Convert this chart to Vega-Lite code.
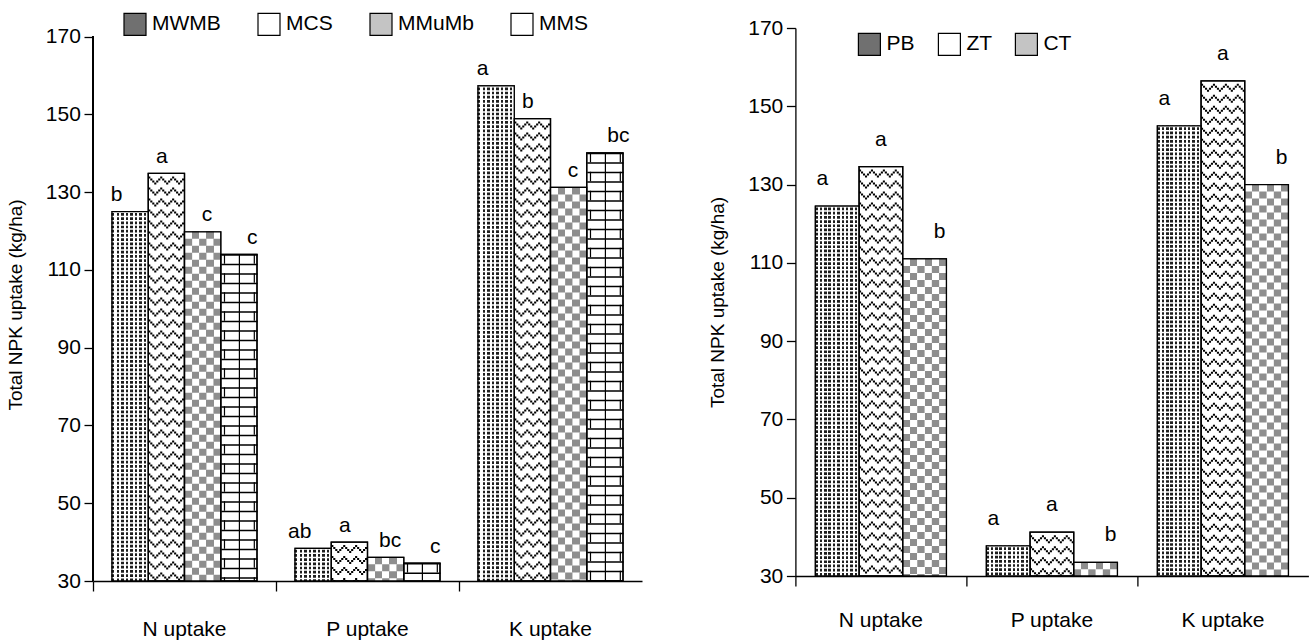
{
"$schema":"https://vega.github.io/schema/vega-lite/v6.json",
"padding":{"left":6,"top":12,"right":1,"bottom":0},
"bounds":"flush",
"spacing":153.4,
"resolve":{"scale":{"fill":"independent"},"legend":{"fill":"independent"}},
"config":{"font":"Liberation Sans","view":{"stroke":null},
 "axis":{"labelFont":"Liberation Sans","titleFont":"Liberation Sans","labelColor":"black","titleColor":"black","domainColor":"black","tickColor":"black","domainWidth":1.3,"tickWidth":1.3,"grid":false},
 "legend":{"labelFont":"Liberation Sans","labelColor":"black"},
 "text":{"font":"Liberation Sans"}},
"datasets":{
 "left":[
 {"nutrient":"N uptake","treatment":"MWMB","value":125,"sig":"b"},
 {"nutrient":"N uptake","treatment":"MCS","value":134.8,"sig":"a"},
 {"nutrient":"N uptake","treatment":"MMuMb","value":119.8,"sig":"c"},
 {"nutrient":"N uptake","treatment":"MMS","value":114,"sig":"c"},
 {"nutrient":"P uptake","treatment":"MWMB","value":38.4,"sig":"ab"},
 {"nutrient":"P uptake","treatment":"MCS","value":40,"sig":"a"},
 {"nutrient":"P uptake","treatment":"MMuMb","value":36.1,"sig":"bc"},
 {"nutrient":"P uptake","treatment":"MMS","value":34.6,"sig":"c"},
 {"nutrient":"K uptake","treatment":"MWMB","value":157.3,"sig":"a"},
 {"nutrient":"K uptake","treatment":"MCS","value":148.9,"sig":"b"},
 {"nutrient":"K uptake","treatment":"MMuMb","value":131.2,"sig":"c"},
 {"nutrient":"K uptake","treatment":"MMS","value":140.1,"sig":"bc"}],
 "right":[
 {"nutrient":"N uptake","treatment":"PB","value":124.5,"sig":"a"},
 {"nutrient":"N uptake","treatment":"ZT","value":134.6,"sig":"a"},
 {"nutrient":"N uptake","treatment":"CT","value":111,"sig":"b"},
 {"nutrient":"P uptake","treatment":"PB","value":37.7,"sig":"a"},
 {"nutrient":"P uptake","treatment":"ZT","value":41.2,"sig":"a"},
 {"nutrient":"P uptake","treatment":"CT","value":33.5,"sig":"b"},
 {"nutrient":"K uptake","treatment":"PB","value":145,"sig":"a"},
 {"nutrient":"K uptake","treatment":"ZT","value":156.5,"sig":"a"},
 {"nutrient":"K uptake","treatment":"CT","value":130,"sig":"b"}]
},
"hconcat":[
{
 "width":549,"height":553,
 "data":{"name":"left"},
 "encoding":{
  "x":{"field":"nutrient","type":"nominal","sort":["N uptake","P uptake","K uptake"],"scale":{"paddingInner":0,"paddingOuter":0},
   "axis":{"title":null,"labelAngle":0,"labelFontSize":21,"labelPadding":27.5,"bandPosition":0,"tickSize":10}},
  "y":{"field":"value","type":"quantitative","scale":{"domain":[30,172.2],"nice":false,"zero":false},
   "axis":{"values":[30,50,70,90,110,130,150,170],"domain":false,"title":"Total NPK uptake (kg/ha)","titleFontSize":19,"titleFontWeight":"normal","titlePadding":20,"labelFontSize":21,"labelPadding":3.6,"tickSize":9}}
 },
 "resolve":{"scale":{"xOffset":"independent"}},
 "layer":[
  {"mark":{"type":"rule","color":"black","strokeWidth":1.3},
   "encoding":{"x":{"datum":"N uptake","bandPosition":0},"y":{"datum":30},"y2":{"datum":170}}},
  {"mark":{"type":"bar","stroke":"black","strokeWidth":1.3},
   "encoding":{"xOffset":{"field":"treatment","type":"nominal","scale":{"domain":["MWMB","MCS","MMuMb","MMS"],"paddingInner":0,"paddingOuter":0.524}},
    "y2":{"datum":30},
    "fill":{"field":"treatment","type":"nominal","scale":{"domain":["MWMB","MCS","MMuMb","MMS"],"range":["#707070","#ffffff","#c4c4c4","#ffffff"]},
     "legend":{"title":null,"orient":"none","legendX":30,"legendY":-16,"direction":"horizontal","symbolType":"square","symbolSize":484,"symbolStrokeColor":"black","symbolStrokeWidth":1.2,"symbolOpacity":1,"labelFontSize":21,"labelOffset":5,"columnPadding":34}}}},
  {"transform":[{"filter":"datum.treatment==='MWMB'"}],
   "mark":{"type":"bar","fill":{"gradient":"linear","x1":0,"y1":0,"x2":1,"y2":0,"stops":[
      {"offset":0,"color":"#1e1e1e"},{"offset":0.06875,"color":"#1e1e1e"},{"offset":0.06875,"color":"#ffffff"},{"offset":0.125,"color":"#ffffff"},
      {"offset":0.125,"color":"#1e1e1e"},{"offset":0.19375,"color":"#1e1e1e"},{"offset":0.19375,"color":"#ffffff"},{"offset":0.25,"color":"#ffffff"},
      {"offset":0.25,"color":"#1e1e1e"},{"offset":0.31875,"color":"#1e1e1e"},{"offset":0.31875,"color":"#ffffff"},{"offset":0.375,"color":"#ffffff"},
      {"offset":0.375,"color":"#1e1e1e"},{"offset":0.44375,"color":"#1e1e1e"},{"offset":0.44375,"color":"#ffffff"},{"offset":0.5,"color":"#ffffff"},
      {"offset":0.5,"color":"#1e1e1e"},{"offset":0.56875,"color":"#1e1e1e"},{"offset":0.56875,"color":"#ffffff"},{"offset":0.625,"color":"#ffffff"},
      {"offset":0.625,"color":"#1e1e1e"},{"offset":0.69375,"color":"#1e1e1e"},{"offset":0.69375,"color":"#ffffff"},{"offset":0.75,"color":"#ffffff"},
      {"offset":0.75,"color":"#1e1e1e"},{"offset":0.81875,"color":"#1e1e1e"},{"offset":0.81875,"color":"#ffffff"},{"offset":0.875,"color":"#ffffff"},
      {"offset":0.875,"color":"#1e1e1e"},{"offset":0.94375,"color":"#1e1e1e"},{"offset":0.94375,"color":"#ffffff"},{"offset":1,"color":"#ffffff"}]}},
   "encoding":{"xOffset":{"field":"treatment","type":"nominal","scale":{"domain":["MWMB","MCS","MMuMb","MMS"],"paddingInner":0,"paddingOuter":0.524}},"y2":{"datum":30}}},
  {"transform":[{"filter":"datum.treatment==='MMuMb'"}],
   "mark":{"type":"bar","fill":{"gradient":"linear","x1":0,"y1":0,"x2":1,"y2":0,"stops":[
      {"offset":0,"color":"#ffffff"},{"offset":0.2,"color":"#ffffff"},{"offset":0.2,"color":"#8e8e8e"},{"offset":0.4,"color":"#8e8e8e"},
      {"offset":0.4,"color":"#ffffff"},{"offset":0.6,"color":"#ffffff"},{"offset":0.6,"color":"#8e8e8e"},{"offset":0.8,"color":"#8e8e8e"},
      {"offset":0.8,"color":"#ffffff"},{"offset":1,"color":"#ffffff"}]}},
   "encoding":{"xOffset":{"field":"treatment","type":"nominal","scale":{"domain":["MWMB","MCS","MMuMb","MMS"],"paddingInner":0,"paddingOuter":0.524}},"y2":{"datum":30}}},
  {"transform":[{"filter":"datum.treatment==='MWMB'"}],"mark":{"type":"rule","color":"#ffffff","strokeWidth":36.25,"strokeDash":[1.5,2.7]},"encoding":{"xOffset":{"field":"treatment","type":"nominal","scale":{"domain":["MWMB","MCS","MMuMb","MMS"],"paddingInner":1,"paddingOuter":1.024,"align":0.5}},"y2":{"datum":30}}},
  {"transform":[{"filter":"datum.treatment==='MCS'"}],"mark":{"type":"rule","color":"black","strokeWidth":2.1,"strokeDash":[2,9],"strokeDashOffset":8},"encoding":{"xOffset":{"field":"treatment","type":"nominal","scale":{"domain":["MWMB","MCS","MMuMb","MMS"],"paddingInner":1,"paddingOuter":1.024,"align":0.2694}},"y2":{"datum":30}}},
  {"transform":[{"filter":"datum.treatment==='MCS'"}],"mark":{"type":"rule","color":"black","strokeWidth":2.1,"strokeDash":[2,9],"strokeDashOffset":6},"encoding":{"xOffset":{"field":"treatment","type":"nominal","scale":{"domain":["MWMB","MCS","MMuMb","MMS"],"paddingInner":1,"paddingOuter":1.024,"align":0.2966}},"y2":{"datum":30}}},
  {"transform":[{"filter":"datum.treatment==='MCS'"}],"mark":{"type":"rule","color":"black","strokeWidth":2.1,"strokeDash":[2,9],"strokeDashOffset":4},"encoding":{"xOffset":{"field":"treatment","type":"nominal","scale":{"domain":["MWMB","MCS","MMuMb","MMS"],"paddingInner":1,"paddingOuter":1.024,"align":0.3237}},"y2":{"datum":30}}},
  {"transform":[{"filter":"datum.treatment==='MCS'"}],"mark":{"type":"rule","color":"black","strokeWidth":2.1,"strokeDash":[2,9],"strokeDashOffset":2},"encoding":{"xOffset":{"field":"treatment","type":"nominal","scale":{"domain":["MWMB","MCS","MMuMb","MMS"],"paddingInner":1,"paddingOuter":1.024,"align":0.3508}},"y2":{"datum":30}}},
  {"transform":[{"filter":"datum.treatment==='MCS'"}],"mark":{"type":"rule","color":"black","strokeWidth":2.1,"strokeDash":[2,9],"strokeDashOffset":4},"encoding":{"xOffset":{"field":"treatment","type":"nominal","scale":{"domain":["MWMB","MCS","MMuMb","MMS"],"paddingInner":1,"paddingOuter":1.024,"align":0.3779}},"y2":{"datum":30}}},
  {"transform":[{"filter":"datum.treatment==='MCS'"}],"mark":{"type":"rule","color":"black","strokeWidth":2.1,"strokeDash":[2,9],"strokeDashOffset":6},"encoding":{"xOffset":{"field":"treatment","type":"nominal","scale":{"domain":["MWMB","MCS","MMuMb","MMS"],"paddingInner":1,"paddingOuter":1.024,"align":0.4051}},"y2":{"datum":30}}},
  {"transform":[{"filter":"datum.treatment==='MCS'"}],"mark":{"type":"rule","color":"black","strokeWidth":2.1,"strokeDash":[2,9],"strokeDashOffset":8},"encoding":{"xOffset":{"field":"treatment","type":"nominal","scale":{"domain":["MWMB","MCS","MMuMb","MMS"],"paddingInner":1,"paddingOuter":1.024,"align":0.4322}},"y2":{"datum":30}}},
  {"transform":[{"filter":"datum.treatment==='MCS'"}],"mark":{"type":"rule","color":"black","strokeWidth":2.1,"strokeDash":[2,9],"strokeDashOffset":6},"encoding":{"xOffset":{"field":"treatment","type":"nominal","scale":{"domain":["MWMB","MCS","MMuMb","MMS"],"paddingInner":1,"paddingOuter":1.024,"align":0.4593}},"y2":{"datum":30}}},
  {"transform":[{"filter":"datum.treatment==='MCS'"}],"mark":{"type":"rule","color":"black","strokeWidth":2.1,"strokeDash":[2,9],"strokeDashOffset":4},"encoding":{"xOffset":{"field":"treatment","type":"nominal","scale":{"domain":["MWMB","MCS","MMuMb","MMS"],"paddingInner":1,"paddingOuter":1.024,"align":0.4864}},"y2":{"datum":30}}},
  {"transform":[{"filter":"datum.treatment==='MCS'"}],"mark":{"type":"rule","color":"black","strokeWidth":2.1,"strokeDash":[2,9],"strokeDashOffset":2},"encoding":{"xOffset":{"field":"treatment","type":"nominal","scale":{"domain":["MWMB","MCS","MMuMb","MMS"],"paddingInner":1,"paddingOuter":1.024,"align":0.5136}},"y2":{"datum":30}}},
  {"transform":[{"filter":"datum.treatment==='MCS'"}],"mark":{"type":"rule","color":"black","strokeWidth":2.1,"strokeDash":[2,9],"strokeDashOffset":4},"encoding":{"xOffset":{"field":"treatment","type":"nominal","scale":{"domain":["MWMB","MCS","MMuMb","MMS"],"paddingInner":1,"paddingOuter":1.024,"align":0.5407}},"y2":{"datum":30}}},
  {"transform":[{"filter":"datum.treatment==='MCS'"}],"mark":{"type":"rule","color":"black","strokeWidth":2.1,"strokeDash":[2,9],"strokeDashOffset":6},"encoding":{"xOffset":{"field":"treatment","type":"nominal","scale":{"domain":["MWMB","MCS","MMuMb","MMS"],"paddingInner":1,"paddingOuter":1.024,"align":0.5678}},"y2":{"datum":30}}},
  {"transform":[{"filter":"datum.treatment==='MCS'"}],"mark":{"type":"rule","color":"black","strokeWidth":2.1,"strokeDash":[2,9],"strokeDashOffset":8},"encoding":{"xOffset":{"field":"treatment","type":"nominal","scale":{"domain":["MWMB","MCS","MMuMb","MMS"],"paddingInner":1,"paddingOuter":1.024,"align":0.5949}},"y2":{"datum":30}}},
  {"transform":[{"filter":"datum.treatment==='MCS'"}],"mark":{"type":"rule","color":"black","strokeWidth":2.1,"strokeDash":[2,9],"strokeDashOffset":6},"encoding":{"xOffset":{"field":"treatment","type":"nominal","scale":{"domain":["MWMB","MCS","MMuMb","MMS"],"paddingInner":1,"paddingOuter":1.024,"align":0.6221}},"y2":{"datum":30}}},
  {"transform":[{"filter":"datum.treatment==='MCS'"}],"mark":{"type":"rule","color":"black","strokeWidth":2.1,"strokeDash":[2,9],"strokeDashOffset":4},"encoding":{"xOffset":{"field":"treatment","type":"nominal","scale":{"domain":["MWMB","MCS","MMuMb","MMS"],"paddingInner":1,"paddingOuter":1.024,"align":0.6492}},"y2":{"datum":30}}},
  {"transform":[{"filter":"datum.treatment==='MCS'"}],"mark":{"type":"rule","color":"black","strokeWidth":2.1,"strokeDash":[2,9],"strokeDashOffset":2},"encoding":{"xOffset":{"field":"treatment","type":"nominal","scale":{"domain":["MWMB","MCS","MMuMb","MMS"],"paddingInner":1,"paddingOuter":1.024,"align":0.6763}},"y2":{"datum":30}}},
  {"transform":[{"filter":"datum.treatment==='MCS'"}],"mark":{"type":"rule","color":"black","strokeWidth":2.1,"strokeDash":[2,9],"strokeDashOffset":4},"encoding":{"xOffset":{"field":"treatment","type":"nominal","scale":{"domain":["MWMB","MCS","MMuMb","MMS"],"paddingInner":1,"paddingOuter":1.024,"align":0.7034}},"y2":{"datum":30}}},
  {"transform":[{"filter":"datum.treatment==='MCS'"}],"mark":{"type":"rule","color":"black","strokeWidth":2.1,"strokeDash":[2,9],"strokeDashOffset":6},"encoding":{"xOffset":{"field":"treatment","type":"nominal","scale":{"domain":["MWMB","MCS","MMuMb","MMS"],"paddingInner":1,"paddingOuter":1.024,"align":0.7306}},"y2":{"datum":30}}},
  {"transform":[{"filter":"datum.treatment==='MMuMb'"}],"mark":{"type":"rule","color":"#ffffff","strokeWidth":36.25,"strokeDash":[7,7],"strokeDashOffset":7},"encoding":{"xOffset":{"field":"treatment","type":"nominal","scale":{"domain":["MWMB","MCS","MMuMb","MMS"],"paddingInner":1,"paddingOuter":1.024,"align":0.5}},"y2":{"datum":30}}},
  {"transform":[{"filter":"datum.treatment==='MMuMb'"}],"mark":{"type":"rule","color":"#8e8e8e","strokeWidth":7.3,"strokeDash":[7,7],"strokeDashOffset":7},"encoding":{"xOffset":{"field":"treatment","type":"nominal","scale":{"domain":["MWMB","MCS","MMuMb","MMS"],"paddingInner":1,"paddingOuter":1.024,"align":0.3047}},"y2":{"datum":30}}},
  {"transform":[{"filter":"datum.treatment==='MMuMb'"}],"mark":{"type":"rule","color":"#8e8e8e","strokeWidth":7.3,"strokeDash":[7,7],"strokeDashOffset":7},"encoding":{"xOffset":{"field":"treatment","type":"nominal","scale":{"domain":["MWMB","MCS","MMuMb","MMS"],"paddingInner":1,"paddingOuter":1.024,"align":0.5}},"y2":{"datum":30}}},
  {"transform":[{"filter":"datum.treatment==='MMuMb'"}],"mark":{"type":"rule","color":"#8e8e8e","strokeWidth":7.3,"strokeDash":[7,7],"strokeDashOffset":7},"encoding":{"xOffset":{"field":"treatment","type":"nominal","scale":{"domain":["MWMB","MCS","MMuMb","MMS"],"paddingInner":1,"paddingOuter":1.024,"align":0.6953}},"y2":{"datum":30}}},
  {"transform":[{"filter":"datum.treatment==='MMS'"}],"mark":{"type":"rule","color":"black","strokeWidth":36.25,"strokeDash":[1.3,8.2]},"encoding":{"xOffset":{"field":"treatment","type":"nominal","scale":{"domain":["MWMB","MCS","MMuMb","MMS"],"paddingInner":1,"paddingOuter":1.024,"align":0.5}},"y2":{"datum":30}}},
  {"transform":[{"filter":"datum.treatment==='MMS'"}],"mark":{"type":"rule","color":"black","strokeWidth":1.2},"encoding":{"xOffset":{"field":"treatment","type":"nominal","scale":{"domain":["MWMB","MCS","MMuMb","MMS"],"paddingInner":1,"paddingOuter":1.024,"align":0.5}},"y2":{"datum":30}}},
  {"transform":[{"filter":"datum.treatment==='MMS'"}],"mark":{"type":"rule","color":"black","strokeWidth":1.2,"strokeDash":[9.5,9.5]},"encoding":{"xOffset":{"field":"treatment","type":"nominal","scale":{"domain":["MWMB","MCS","MMuMb","MMS"],"paddingInner":1,"paddingOuter":1.024,"align":0.2963}},"y2":{"datum":30}}},
  {"transform":[{"filter":"datum.treatment==='MMS'"}],"mark":{"type":"rule","color":"black","strokeWidth":1.2,"strokeDash":[9.5,9.5]},"encoding":{"xOffset":{"field":"treatment","type":"nominal","scale":{"domain":["MWMB","MCS","MMuMb","MMS"],"paddingInner":1,"paddingOuter":1.024,"align":0.7037}},"y2":{"datum":30}}},
  {"mark":{"type":"bar","fill":"transparent","stroke":"black","strokeWidth":1.3},
   "encoding":{"xOffset":{"field":"treatment","type":"nominal","scale":{"domain":["MWMB","MCS","MMuMb","MMS"],"paddingInner":0,"paddingOuter":0.524}},"y2":{"datum":30}}},
  {"mark":{"type":"text","fontSize":21,"dy":-16.5,"baseline":"middle","color":"black"},
   "encoding":{"xOffset":{"field":"treatment","type":"nominal","scale":{"domain":["MWMB","MCS","MMuMb","MMS"],"paddingInner":0,"paddingOuter":0.524}},"text":{"field":"sig"}}}
 ]
},
{
 "width":513,"height":548,
 "data":{"name":"right"},
 "encoding":{
  "x":{"field":"nutrient","type":"nominal","sort":["N uptake","P uptake","K uptake"],"scale":{"paddingInner":0,"paddingOuter":0},
   "axis":{"title":null,"labelAngle":0,"labelFontSize":21,"labelPadding":23.5,"bandPosition":0,"tickSize":10}},
  "y":{"field":"value","type":"quantitative","scale":{"domain":[30,170],"nice":false,"zero":false},
   "axis":{"values":[30,50,70,90,110,130,150,170],"title":"Total NPK uptake (kg/ha)","titleFontSize":19,"titleFontWeight":"normal","titlePadding":20,"labelFontSize":21,"labelPadding":3.6,"tickSize":9}}
 },
 "resolve":{"scale":{"xOffset":"independent"}},
 "layer":[
  {"mark":{"type":"bar","stroke":"black","strokeWidth":1.3},
   "encoding":{"xOffset":{"field":"treatment","type":"nominal","scale":{"domain":["PB","ZT","CT"],"paddingInner":0,"paddingOuter":0.458}},
    "y2":{"datum":30},
    "fill":{"field":"treatment","type":"nominal","scale":{"domain":["PB","ZT","CT"],"range":["#707070","#ffffff","#c4c4c4"]},
     "legend":{"title":null,"orient":"none","legendX":62,"legendY":4,"direction":"horizontal","symbolType":"square","symbolSize":484,"symbolStrokeColor":"black","symbolStrokeWidth":1.2,"symbolOpacity":1,"labelFontSize":21,"labelOffset":5,"columnPadding":20}}}},
  {"transform":[{"filter":"datum.treatment==='PB'"}],
   "mark":{"type":"bar","fill":{"gradient":"linear","x1":0,"y1":0,"x2":1,"y2":0,"stops":[
      {"offset":0,"color":"#1e1e1e"},{"offset":0.055,"color":"#1e1e1e"},{"offset":0.055,"color":"#ffffff"},{"offset":0.1,"color":"#ffffff"},
      {"offset":0.1,"color":"#1e1e1e"},{"offset":0.155,"color":"#1e1e1e"},{"offset":0.155,"color":"#ffffff"},{"offset":0.2,"color":"#ffffff"},
      {"offset":0.2,"color":"#1e1e1e"},{"offset":0.255,"color":"#1e1e1e"},{"offset":0.255,"color":"#ffffff"},{"offset":0.3,"color":"#ffffff"},
      {"offset":0.3,"color":"#1e1e1e"},{"offset":0.355,"color":"#1e1e1e"},{"offset":0.355,"color":"#ffffff"},{"offset":0.4,"color":"#ffffff"},
      {"offset":0.4,"color":"#1e1e1e"},{"offset":0.455,"color":"#1e1e1e"},{"offset":0.455,"color":"#ffffff"},{"offset":0.5,"color":"#ffffff"},
      {"offset":0.5,"color":"#1e1e1e"},{"offset":0.555,"color":"#1e1e1e"},{"offset":0.555,"color":"#ffffff"},{"offset":0.6,"color":"#ffffff"},
      {"offset":0.6,"color":"#1e1e1e"},{"offset":0.655,"color":"#1e1e1e"},{"offset":0.655,"color":"#ffffff"},{"offset":0.7,"color":"#ffffff"},
      {"offset":0.7,"color":"#1e1e1e"},{"offset":0.755,"color":"#1e1e1e"},{"offset":0.755,"color":"#ffffff"},{"offset":0.8,"color":"#ffffff"},
      {"offset":0.8,"color":"#1e1e1e"},{"offset":0.855,"color":"#1e1e1e"},{"offset":0.855,"color":"#ffffff"},{"offset":0.9,"color":"#ffffff"},
      {"offset":0.9,"color":"#1e1e1e"},{"offset":0.955,"color":"#1e1e1e"},{"offset":0.955,"color":"#ffffff"},{"offset":1,"color":"#ffffff"}]}},
   "encoding":{"xOffset":{"field":"treatment","type":"nominal","scale":{"domain":["PB","ZT","CT"],"paddingInner":0,"paddingOuter":0.458}},"y2":{"datum":30}}},
  {"transform":[{"filter":"datum.treatment==='CT'"}],
   "mark":{"type":"bar","fill":{"gradient":"linear","x1":0,"y1":0,"x2":1,"y2":0,"stops":[
      {"offset":0,"color":"#ffffff"},{"offset":0.1667,"color":"#ffffff"},{"offset":0.1667,"color":"#8e8e8e"},{"offset":0.3333,"color":"#8e8e8e"},
      {"offset":0.3333,"color":"#ffffff"},{"offset":0.5,"color":"#ffffff"},{"offset":0.5,"color":"#8e8e8e"},{"offset":0.6667,"color":"#8e8e8e"},
      {"offset":0.6667,"color":"#ffffff"},{"offset":0.8333,"color":"#ffffff"},{"offset":0.8333,"color":"#8e8e8e"},{"offset":1,"color":"#8e8e8e"}]}},
   "encoding":{"xOffset":{"field":"treatment","type":"nominal","scale":{"domain":["PB","ZT","CT"],"paddingInner":0,"paddingOuter":0.458}},"y2":{"datum":30}}},
  {"transform":[{"filter":"datum.treatment==='PB'"}],"mark":{"type":"rule","color":"#ffffff","strokeWidth":43.67,"strokeDash":[1.5,2.7]},"encoding":{"xOffset":{"field":"treatment","type":"nominal","scale":{"domain":["PB","ZT","CT"],"paddingInner":1,"paddingOuter":0.958,"align":0.5}},"y2":{"datum":30}}},
  {"transform":[{"filter":"datum.treatment==='ZT'"}],"mark":{"type":"rule","color":"black","strokeWidth":2.08,"strokeDash":[2,9],"strokeDashOffset":8},"encoding":{"xOffset":{"field":"treatment","type":"nominal","scale":{"domain":["PB","ZT","CT"],"paddingInner":1,"paddingOuter":0.958,"align":0.2509}},"y2":{"datum":30}}},
  {"transform":[{"filter":"datum.treatment==='ZT'"}],"mark":{"type":"rule","color":"black","strokeWidth":2.08,"strokeDash":[2,9],"strokeDashOffset":6},"encoding":{"xOffset":{"field":"treatment","type":"nominal","scale":{"domain":["PB","ZT","CT"],"paddingInner":1,"paddingOuter":0.958,"align":0.2746}},"y2":{"datum":30}}},
  {"transform":[{"filter":"datum.treatment==='ZT'"}],"mark":{"type":"rule","color":"black","strokeWidth":2.08,"strokeDash":[2,9],"strokeDashOffset":4},"encoding":{"xOffset":{"field":"treatment","type":"nominal","scale":{"domain":["PB","ZT","CT"],"paddingInner":1,"paddingOuter":0.958,"align":0.2983}},"y2":{"datum":30}}},
  {"transform":[{"filter":"datum.treatment==='ZT'"}],"mark":{"type":"rule","color":"black","strokeWidth":2.08,"strokeDash":[2,9],"strokeDashOffset":2},"encoding":{"xOffset":{"field":"treatment","type":"nominal","scale":{"domain":["PB","ZT","CT"],"paddingInner":1,"paddingOuter":0.958,"align":0.3221}},"y2":{"datum":30}}},
  {"transform":[{"filter":"datum.treatment==='ZT'"}],"mark":{"type":"rule","color":"black","strokeWidth":2.08,"strokeDash":[2,9],"strokeDashOffset":4},"encoding":{"xOffset":{"field":"treatment","type":"nominal","scale":{"domain":["PB","ZT","CT"],"paddingInner":1,"paddingOuter":0.958,"align":0.3458}},"y2":{"datum":30}}},
  {"transform":[{"filter":"datum.treatment==='ZT'"}],"mark":{"type":"rule","color":"black","strokeWidth":2.08,"strokeDash":[2,9],"strokeDashOffset":6},"encoding":{"xOffset":{"field":"treatment","type":"nominal","scale":{"domain":["PB","ZT","CT"],"paddingInner":1,"paddingOuter":0.958,"align":0.3695}},"y2":{"datum":30}}},
  {"transform":[{"filter":"datum.treatment==='ZT'"}],"mark":{"type":"rule","color":"black","strokeWidth":2.08,"strokeDash":[2,9],"strokeDashOffset":8},"encoding":{"xOffset":{"field":"treatment","type":"nominal","scale":{"domain":["PB","ZT","CT"],"paddingInner":1,"paddingOuter":0.958,"align":0.3932}},"y2":{"datum":30}}},
  {"transform":[{"filter":"datum.treatment==='ZT'"}],"mark":{"type":"rule","color":"black","strokeWidth":2.08,"strokeDash":[2,9],"strokeDashOffset":6},"encoding":{"xOffset":{"field":"treatment","type":"nominal","scale":{"domain":["PB","ZT","CT"],"paddingInner":1,"paddingOuter":0.958,"align":0.4170}},"y2":{"datum":30}}},
  {"transform":[{"filter":"datum.treatment==='ZT'"}],"mark":{"type":"rule","color":"black","strokeWidth":2.08,"strokeDash":[2,9],"strokeDashOffset":4},"encoding":{"xOffset":{"field":"treatment","type":"nominal","scale":{"domain":["PB","ZT","CT"],"paddingInner":1,"paddingOuter":0.958,"align":0.4407}},"y2":{"datum":30}}},
  {"transform":[{"filter":"datum.treatment==='ZT'"}],"mark":{"type":"rule","color":"black","strokeWidth":2.08,"strokeDash":[2,9],"strokeDashOffset":2},"encoding":{"xOffset":{"field":"treatment","type":"nominal","scale":{"domain":["PB","ZT","CT"],"paddingInner":1,"paddingOuter":0.958,"align":0.4644}},"y2":{"datum":30}}},
  {"transform":[{"filter":"datum.treatment==='ZT'"}],"mark":{"type":"rule","color":"black","strokeWidth":2.08,"strokeDash":[2,9],"strokeDashOffset":4},"encoding":{"xOffset":{"field":"treatment","type":"nominal","scale":{"domain":["PB","ZT","CT"],"paddingInner":1,"paddingOuter":0.958,"align":0.4881}},"y2":{"datum":30}}},
  {"transform":[{"filter":"datum.treatment==='ZT'"}],"mark":{"type":"rule","color":"black","strokeWidth":2.08,"strokeDash":[2,9],"strokeDashOffset":6},"encoding":{"xOffset":{"field":"treatment","type":"nominal","scale":{"domain":["PB","ZT","CT"],"paddingInner":1,"paddingOuter":0.958,"align":0.5119}},"y2":{"datum":30}}},
  {"transform":[{"filter":"datum.treatment==='ZT'"}],"mark":{"type":"rule","color":"black","strokeWidth":2.08,"strokeDash":[2,9],"strokeDashOffset":8},"encoding":{"xOffset":{"field":"treatment","type":"nominal","scale":{"domain":["PB","ZT","CT"],"paddingInner":1,"paddingOuter":0.958,"align":0.5356}},"y2":{"datum":30}}},
  {"transform":[{"filter":"datum.treatment==='ZT'"}],"mark":{"type":"rule","color":"black","strokeWidth":2.08,"strokeDash":[2,9],"strokeDashOffset":6},"encoding":{"xOffset":{"field":"treatment","type":"nominal","scale":{"domain":["PB","ZT","CT"],"paddingInner":1,"paddingOuter":0.958,"align":0.5593}},"y2":{"datum":30}}},
  {"transform":[{"filter":"datum.treatment==='ZT'"}],"mark":{"type":"rule","color":"black","strokeWidth":2.08,"strokeDash":[2,9],"strokeDashOffset":4},"encoding":{"xOffset":{"field":"treatment","type":"nominal","scale":{"domain":["PB","ZT","CT"],"paddingInner":1,"paddingOuter":0.958,"align":0.5830}},"y2":{"datum":30}}},
  {"transform":[{"filter":"datum.treatment==='ZT'"}],"mark":{"type":"rule","color":"black","strokeWidth":2.08,"strokeDash":[2,9],"strokeDashOffset":2},"encoding":{"xOffset":{"field":"treatment","type":"nominal","scale":{"domain":["PB","ZT","CT"],"paddingInner":1,"paddingOuter":0.958,"align":0.6068}},"y2":{"datum":30}}},
  {"transform":[{"filter":"datum.treatment==='ZT'"}],"mark":{"type":"rule","color":"black","strokeWidth":2.08,"strokeDash":[2,9],"strokeDashOffset":4},"encoding":{"xOffset":{"field":"treatment","type":"nominal","scale":{"domain":["PB","ZT","CT"],"paddingInner":1,"paddingOuter":0.958,"align":0.6305}},"y2":{"datum":30}}},
  {"transform":[{"filter":"datum.treatment==='ZT'"}],"mark":{"type":"rule","color":"black","strokeWidth":2.08,"strokeDash":[2,9],"strokeDashOffset":6},"encoding":{"xOffset":{"field":"treatment","type":"nominal","scale":{"domain":["PB","ZT","CT"],"paddingInner":1,"paddingOuter":0.958,"align":0.6542}},"y2":{"datum":30}}},
  {"transform":[{"filter":"datum.treatment==='ZT'"}],"mark":{"type":"rule","color":"black","strokeWidth":2.08,"strokeDash":[2,9],"strokeDashOffset":8},"encoding":{"xOffset":{"field":"treatment","type":"nominal","scale":{"domain":["PB","ZT","CT"],"paddingInner":1,"paddingOuter":0.958,"align":0.6779}},"y2":{"datum":30}}},
  {"transform":[{"filter":"datum.treatment==='ZT'"}],"mark":{"type":"rule","color":"black","strokeWidth":2.08,"strokeDash":[2,9],"strokeDashOffset":6},"encoding":{"xOffset":{"field":"treatment","type":"nominal","scale":{"domain":["PB","ZT","CT"],"paddingInner":1,"paddingOuter":0.958,"align":0.7017}},"y2":{"datum":30}}},
  {"transform":[{"filter":"datum.treatment==='ZT'"}],"mark":{"type":"rule","color":"black","strokeWidth":2.08,"strokeDash":[2,9],"strokeDashOffset":4},"encoding":{"xOffset":{"field":"treatment","type":"nominal","scale":{"domain":["PB","ZT","CT"],"paddingInner":1,"paddingOuter":0.958,"align":0.7254}},"y2":{"datum":30}}},
  {"transform":[{"filter":"datum.treatment==='ZT'"}],"mark":{"type":"rule","color":"black","strokeWidth":2.08,"strokeDash":[2,9],"strokeDashOffset":2},"encoding":{"xOffset":{"field":"treatment","type":"nominal","scale":{"domain":["PB","ZT","CT"],"paddingInner":1,"paddingOuter":0.958,"align":0.7491}},"y2":{"datum":30}}},
  {"transform":[{"filter":"datum.treatment==='CT'"}],"mark":{"type":"rule","color":"#ffffff","strokeWidth":43.67,"strokeDash":[7,7],"strokeDashOffset":7},"encoding":{"xOffset":{"field":"treatment","type":"nominal","scale":{"domain":["PB","ZT","CT"],"paddingInner":1,"paddingOuter":0.958,"align":0.5}},"y2":{"datum":30}}},
  {"transform":[{"filter":"datum.treatment==='CT'"}],"mark":{"type":"rule","color":"#8e8e8e","strokeWidth":7.33,"strokeDash":[7,7],"strokeDashOffset":7},"encoding":{"xOffset":{"field":"treatment","type":"nominal","scale":{"domain":["PB","ZT","CT"],"paddingInner":1,"paddingOuter":0.958,"align":0.2825}},"y2":{"datum":30}}},
  {"transform":[{"filter":"datum.treatment==='CT'"}],"mark":{"type":"rule","color":"#8e8e8e","strokeWidth":7.33,"strokeDash":[7,7],"strokeDashOffset":7},"encoding":{"xOffset":{"field":"treatment","type":"nominal","scale":{"domain":["PB","ZT","CT"],"paddingInner":1,"paddingOuter":0.958,"align":0.4565}},"y2":{"datum":30}}},
  {"transform":[{"filter":"datum.treatment==='CT'"}],"mark":{"type":"rule","color":"#8e8e8e","strokeWidth":7.33,"strokeDash":[7,7],"strokeDashOffset":7},"encoding":{"xOffset":{"field":"treatment","type":"nominal","scale":{"domain":["PB","ZT","CT"],"paddingInner":1,"paddingOuter":0.958,"align":0.6305}},"y2":{"datum":30}}},
  {"mark":{"type":"bar","fill":"transparent","stroke":"black","strokeWidth":1.3},
   "encoding":{"xOffset":{"field":"treatment","type":"nominal","scale":{"domain":["PB","ZT","CT"],"paddingInner":0,"paddingOuter":0.458}},"y2":{"datum":30}}},
  {"mark":{"type":"text","fontSize":21,"dy":-27,"baseline":"middle","color":"black"},
   "encoding":{"xOffset":{"field":"treatment","type":"nominal","scale":{"domain":["PB","ZT","CT"],"paddingInner":0,"paddingOuter":0.458}},"text":{"field":"sig"}}}
 ]
}
]
}
